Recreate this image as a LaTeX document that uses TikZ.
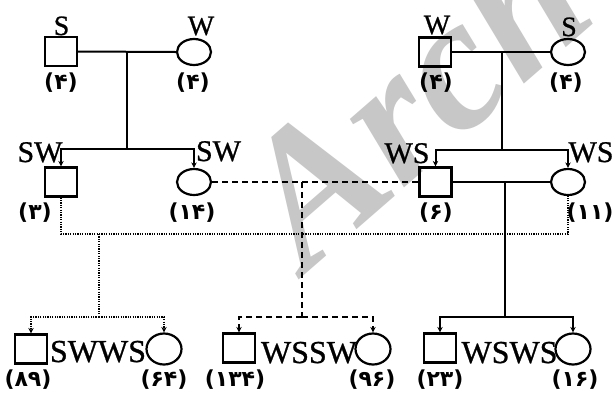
\documentclass[tikz,border=0pt]{standalone}
\usepackage{fontspec}
\setmainfont{Liberation Serif}
\newfontfamily\namefont{Liberation Serif}[FakeBold=0.8]
\newfontfamily\numfont{DejaVu Sans}
\newfontfamily\stampfont{Liberation Serif Bold Italic}
\usetikzlibrary{arrows.meta,shapes.geometric}

\tikzset{
  male/.style={draw, line width=2.2pt, minimum width=32pt, minimum height=29pt, inner sep=0pt},
  female/.style={draw, ellipse, line width=2.2pt, minimum width=34pt, minimum height=26pt, inner sep=0pt},
  female3/.style={female, minimum width=35pt, minimum height=31pt},
  lineage/.style={line width=2pt},
  tip/.style={-{Stealth[length=5.5pt,width=5.5pt]}},
  tolink/.style={lineage, tip},
  dotline/.style={line width=2pt, dash pattern=on 1.2pt off 1.2pt},
  dashline/.style={line width=2pt, dash pattern=on 6pt off 4pt},
  topname/.style={font=\namefont\fontsize{28}{28}\selectfont, inner sep=0pt, anchor=base},
  midname/.style={font=\namefont\fontsize{30}{30}\selectfont, inner sep=0pt, anchor=base},
  lowname/.style={font=\namefont\fontsize{32}{32}\selectfont, inner sep=0pt, anchor=base},
  count/.style={font=\numfont\bfseries\fontsize{22}{22}\selectfont, inner sep=0pt},
  stamp/.style={font=\stampfont\fontsize{190}{190}\selectfont, text=black!22, inner sep=0pt, anchor=base west, rotate=41}
}

\begin{document}
\begin{tikzpicture}[x=1pt, y=-1pt]
\useasboundingbox (0,0) rectangle (615,392);
\fill[white] (0,0) rectangle (615,392);

% background stamp
\node[stamp] (stamp) at (306,274) {Arch};

% first generation
\node[male]   (s1) at (61,51.5) {};
\node[female] (w1) at (194,52) {};
\node[male]   (w2) at (435,52) {};
\node[female] (s2) at (568,52) {};

% second generation
\node[male]   (c1) at (61,182) {};
\node[female] (c2) at (194,182) {};
\node[male]   (c3) at (435.5,182) {};
\node[female] (c4) at (568,182) {};

% third generation
\node[male]    (d1) at (31,349) {};
\node[female3] (d2) at (164,349) {};
\node[male]    (e1) at (239,348) {};
\node[female3] (e2) at (373,349) {};
\node[male]    (f1) at (440,348) {};
\node[female3] (f2) at (573,349) {};

% junction points
\coordinate (m1) at (127,52);
\coordinate (j1) at (127,149);
\coordinate (m2) at (502,52);
\coordinate (j2) at (502,150);
\coordinate (m3) at (302,182);
\coordinate (j3) at (302,317);
\coordinate (m4) at (505,182);
\coordinate (j4) at (505,317);
\coordinate (k0) at (61,234);
\coordinate (k1) at (99,234);
\coordinate (k2) at (568,234);
\coordinate (j5) at (99,317);

% solid links
\draw[lineage] (s1.east) -- (w1.west);
\draw[lineage] (m1) -- (j1);
\draw[tolink] (j1) -| (c1.north);
\draw[tolink] (j1) -| (c2.north);
\draw[lineage] (w2.east) -- (s2.west);
\draw[lineage] (m2) -- (j2);
\draw[tolink] (j2) -| (c3.north);
\draw[tolink] (j2) -| (c4.north);
\draw[lineage] (c3.east) -- (c4.west);
\draw[lineage] (m4) -- (j4);
\draw[tolink] (j4) -| (f1.north);
\draw[tolink] (j4) -| (f2.north);

% dashed links
\draw[dashline] (c2.east) -- (c3.west);
\draw[dashline] (m3) -- (j3);
\draw[dashline, tip] (j3) -| (e1.north);
\draw[dashline, tip] (j3) -| (e2.north);

% dotted links
\draw[dotline] (c1.south) -- (k0) -- (k2) -- (c4.south);
\draw[dotline] (k1) -- (j5);
\draw[dotline, tip] (j5) -| (d1.north);
\draw[dotline, tip] (j5) -| (d2.north);

% names
\node[topname] (t1) at (61.5,35) {S};
\node[topname] (t2) at (201,35) {W};
\node[topname] (t3) at (437,34) {W};
\node[topname] (t4) at (569,36) {S};
\node[midname] (u1) at (40,162) {SW};
\node[midname] (u2) at (218.5,161) {SW};
\node[midname] (u3) at (407,163) {WS};
\node[midname] (u4) at (591,162) {WS};
\node[lowname] (v1) at (98,362) {SWWS};
\node[lowname] (v2) at (309,363) {WSSW};
\node[lowname] (v3) at (509.5,363) {WSWS};

% counts
\node[count] (n1) at (61,83) {(۴)};
\node[count] (n2) at (193,83) {(۴)};
\node[count] (n3) at (436,83) {(۴)};
\node[count] (n4) at (566,83) {(۴)};
\node[count] (n5) at (35,213) {(۳)};
\node[count] (n6) at (192,213) {(۱۴)};
\node[count] (n7) at (436,213) {(۶)};
\node[count] (n8) at (590,213) {(۱۱)};
\node[count] (n9) at (28,380) {(۸۹)};
\node[count] (n10) at (164,380) {(۶۴)};
\node[count] (n11) at (235,380) {(۱۳۴)};
\node[count] (n12) at (372,380) {(۹۶)};
\node[count] (n13) at (440,380) {(۲۳)};
\node[count] (n14) at (575,380) {(۱۶)};
\end{tikzpicture}
\end{document}
